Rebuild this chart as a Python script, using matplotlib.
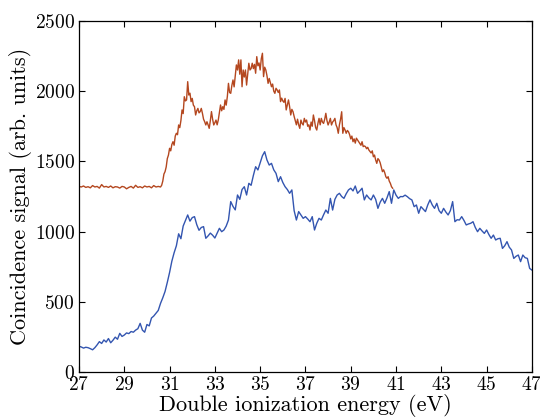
import numpy as np
import matplotlib
matplotlib.use("Agg")
import matplotlib.pyplot as plt

plt.rcParams["font.family"] = "serif"
plt.rcParams["font.serif"] = ["cmr10"]
plt.rcParams["mathtext.fontset"] = "cm"
plt.rcParams["axes.unicode_minus"] = False
plt.rcParams["axes.formatter.use_mathtext"] = True

# blue trace, 27.0 .. 47.0 eV in 0.1 eV steps
blue = [
    185, 180, 172, 178, 175, 168, 160, 175, 195, 218,
    205, 230, 215, 240, 210, 228, 250, 235, 277, 255,
    265, 280, 275, 290, 285, 300, 310, 348, 300, 285,
    340, 330, 386, 400, 420, 440, 490, 530, 575, 640,
    710, 790, 850, 900, 985, 950, 1040, 1080, 1119, 1075,
    1100, 1107, 1050, 1010, 1030, 1036, 953, 970, 990, 975,
    955, 990, 1024, 1000, 1012, 1040, 1083, 1214, 1180, 1155,
    1261, 1230, 1300, 1320, 1261, 1344, 1330, 1400, 1462, 1439,
    1490, 1540, 1569, 1510, 1474, 1486, 1440, 1415, 1356, 1391,
    1350, 1320, 1300, 1273, 1297, 1150, 1083, 1143, 1119, 1095,
    1107, 1090, 1071, 1107, 1012, 1060, 1095, 1083, 1120, 1154,
    1131, 1237, 1154, 1230, 1261, 1273, 1250, 1237, 1270, 1297,
    1309, 1290, 1325, 1273, 1290, 1309, 1226, 1261, 1240, 1226,
    1261, 1230, 1166, 1210, 1237, 1202, 1240, 1285, 1202, 1297,
    1260, 1237, 1250, 1249, 1260, 1249, 1235, 1226, 1178, 1190,
    1131, 1178, 1160, 1143, 1190, 1226, 1190, 1166, 1202, 1150,
    1131, 1166, 1140, 1119, 1150, 1214, 1071, 1085, 1083, 1107,
    1080, 1048, 1055, 1060, 1071, 1030, 1000, 1024, 1005, 988,
    1012, 980, 953, 976, 941, 950, 953, 881, 900, 929,
    890, 870, 810, 825, 834, 787, 834, 815, 810, 739,
    727,
]

# orange trace, flat part 27.0 .. 30.6 eV (0.1 eV steps)
orange_flat = [
    1322, 1318, 1325, 1315, 1320, 1312, 1328, 1318, 1322, 1310,
    1335, 1318, 1322, 1315, 1325, 1312, 1320, 1318, 1310, 1322,
    1318, 1305, 1315, 1322, 1310, 1330, 1315, 1320, 1312, 1325,
    1318, 1322, 1312, 1328, 1318, 1322, 1318,
]

# orange trace, 30.65 .. 40.85 eV (0.05 eV steps)
orange_rise = [
    1330, 1360, 1410, 1427, 1460, 1520, 1545, 1593, 1575, 1620,
    1640, 1615, 1680, 1700, 1690, 1759, 1740, 1790, 1866, 1840,
    1960, 1930, 1937, 2067, 1972, 1985, 1925, 1948, 1900, 1889,
    1830, 1860, 1877, 1845, 1854, 1877, 1842, 1800, 1782, 1759,
    1782, 1760, 1735, 1790, 1854, 1800, 1759, 1775, 1794, 1760,
    1794, 1850, 1901, 1860, 1889, 1870, 1937, 1900, 1960, 2055,
    1990, 1984, 2040, 2079, 2030, 2110, 2186, 2150, 2222, 2120,
    2222, 2031, 2150, 2100, 2150, 2043, 2120, 2198, 2150, 2160,
    2198, 2160, 2190, 2127, 2245, 2180, 2200, 2150, 2230, 2269,
    2103, 2170, 2150, 2110, 2055, 2090, 2060, 2031, 2050, 2000,
    1984, 2020, 2008, 1990, 2008, 1925, 1950, 1930, 1920, 1948,
    1866, 1900, 1937, 1890, 1830, 1870, 1854, 1820, 1790, 1760,
    1800, 1760, 1735, 1794, 1770, 1759, 1806, 1780, 1794, 1750,
    1760, 1723, 1780, 1750, 1830, 1790, 1740, 1723, 1770, 1806,
    1760, 1806, 1780, 1770, 1800, 1842, 1790, 1759, 1780, 1806,
    1759, 1780, 1790, 1806, 1760, 1740, 1700, 1760, 1800, 1853,
    1700, 1740, 1723, 1700, 1720, 1711, 1690, 1660, 1680, 1640,
    1660, 1630, 1665, 1652, 1640, 1628, 1615, 1640, 1605, 1610,
    1605, 1590, 1600, 1581, 1570, 1560, 1575, 1533, 1545, 1510,
    1486, 1520, 1510, 1490, 1460, 1427, 1440, 1420, 1391, 1380,
    1391, 1360, 1344, 1320, 1309,
]

e_blue = np.linspace(27.0, 47.0, len(blue))
e_orange = np.concatenate([
    np.linspace(27.0, 30.6, len(orange_flat)),
    np.linspace(30.65, 40.85, len(orange_rise)),
])
orange = orange_flat + orange_rise

fig = plt.figure(figsize=(5.4, 4.2), dpi=100)
ax = fig.add_axes([0.1463, 0.1136, 0.8387, 0.8369])

ax.plot(e_orange, orange, color="#b4471f", linewidth=1.0)
ax.plot(e_blue, blue, color="#3355b0", linewidth=1.0)

ax.set_xlim(27, 47)
ax.set_ylim(0, 2500)
ax.set_xticks(np.arange(27, 48, 2))
ax.set_yticks(np.arange(0, 2501, 500))
ax.tick_params(direction="in", top=True, right=True, length=4, width=0.8,
               labelsize=14, pad=3)
for s in ax.spines.values():
    s.set_linewidth(0.9)

ax.set_xlabel("Double ionization energy (eV)", fontsize=16, labelpad=0)
ax.set_ylabel("Coincidence signal (arb. units)", fontsize=16, labelpad=2)

fig.savefig("out.png", dpi=100)
